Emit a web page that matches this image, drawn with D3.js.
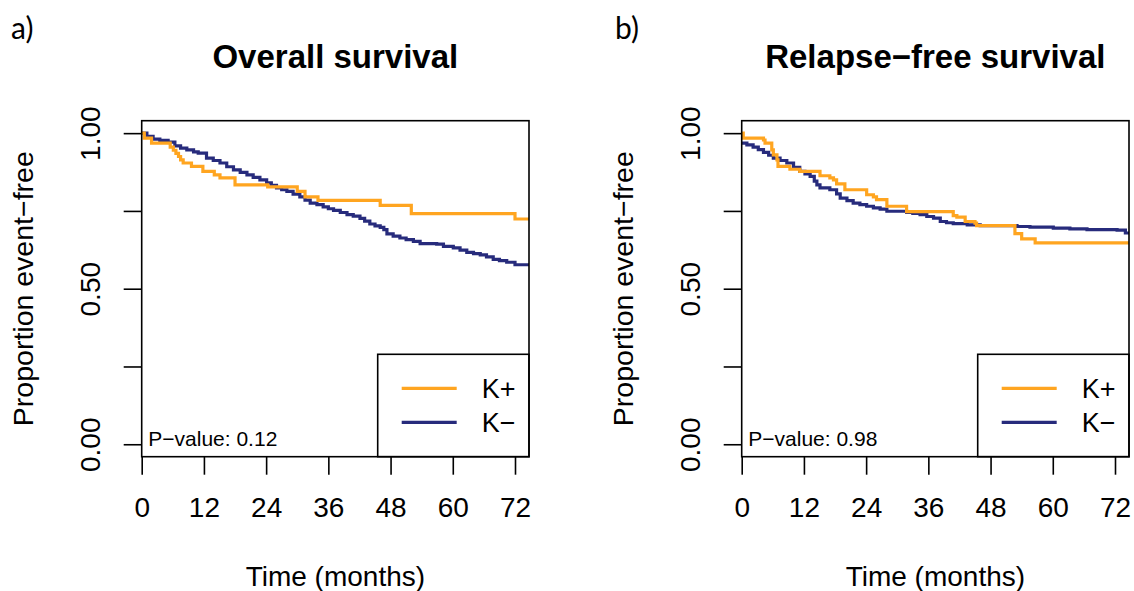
<!DOCTYPE html>
<html>
  <head>
    <meta charset="utf-8" />
    <script src="https://cdn.jsdelivr.net/npm/d3@7"></script>
    <style>
      body { margin: 0; background: #ffffff; }
      text { font-family: "Liberation Sans", Arial, sans-serif; fill: #000000; }
      .frame { stroke: #000000; stroke-width: 1.6; fill: none; }
      .curve { fill: none; stroke-width: 3.2; }
      .axis line { stroke: #000000; stroke-width: 1.6; }
      .axis path { display: none; }
      .tag { font-family: Lato, "Open Sans", sans-serif; }
    </style>
  </head>
  <body>
    <svg width="1134" height="591"></svg>

    <script type="text/javascript">

    // ticks
    var xTicks = [0, 12, 24, 36, 48, 60, 72];
    var yTicks = [0, 0.25, 0.5, 0.75, 1];
    var yTickLabels = ["0.00", "", "0.50", "", "1.00"];
    var xMax = 74.7;

    var groups = ["K+", "K\u2212"];
    var groupColors = ["#ffa520", "#272b7c"];

    // a) overall survival
    var osPosTime = [0, 0.5, 1.9, 5.5, 6.1, 6.6, 7.1, 7.5, 8.0, 9.6, 11.8, 14.0, 15.1, 18.0, 24.3, 30.0, 31.5, 34.0, 46.0, 52.0, 72.0, 74.7];
    var osPosSurv = [1.0, 0.984, 0.968, 0.955, 0.945, 0.935, 0.925, 0.914, 0.904, 0.893, 0.877, 0.866, 0.856, 0.834, 0.827, 0.813, 0.795, 0.784, 0.768, 0.741, 0.724, 0.724];

    var osNegTime = [0, 1.0, 2.2, 3.5, 5.1, 6.4, 7.5, 8.7, 10.0, 10.9, 12.5, 13.8, 15.1, 16.4, 17.7, 19.0, 20.3, 21.5, 22.8, 24.1,
                     25.0, 26.0, 27.0, 28.0, 29.2, 30.5, 31.5, 32.5, 33.8, 35.0, 36.0, 37.0, 38.3, 39.6, 40.8, 42.1, 43.0, 44.0, 45.0, 46.0,
                     46.7, 47.3, 48.5, 49.8, 51.0, 52.4, 53.7, 56.9, 58.2, 60.1, 61.4, 62.7, 64.0, 65.3, 66.5, 67.8, 69.0, 70.4, 72.0, 74.7];
    var osNegSurv = [1.0, 0.99, 0.981, 0.977, 0.971, 0.959, 0.952, 0.946, 0.940, 0.936, 0.920, 0.912, 0.904, 0.892, 0.882, 0.874, 0.866, 0.858, 0.850, 0.840,
                     0.832, 0.824, 0.818, 0.813, 0.804, 0.795, 0.785, 0.775, 0.770, 0.763, 0.757, 0.752, 0.745, 0.738, 0.733, 0.726, 0.717, 0.708, 0.702, 0.697,
                     0.690, 0.676, 0.669, 0.663, 0.658, 0.652, 0.645, 0.643, 0.636, 0.631, 0.624, 0.617, 0.613, 0.609, 0.602, 0.594, 0.590, 0.585, 0.577, 0.577];

    // b) relapse-free survival
    var rfsPosTime = [0, 0.3, 4.2, 4.5, 5.8, 6.1, 6.8, 7.0, 9.3, 11.2, 15.1, 17.0, 17.7, 18.3, 19.9, 24.1, 25.4, 26.0, 28.0, 31.8,
                      40.8, 41.5, 43.1, 45.0, 45.3, 52.7, 54.0, 56.6, 74.7];
    var rfsPosSurv = [1.0, 0.984, 0.978, 0.968, 0.946, 0.930, 0.914, 0.893, 0.884, 0.877, 0.863, 0.856, 0.850, 0.837, 0.818, 0.802, 0.795, 0.786, 0.765, 0.748,
                      0.735, 0.730, 0.716, 0.711, 0.703, 0.677, 0.660, 0.647, 0.647];

    var rfsNegTime = [0, 1.0, 2.2, 3.2, 4.2, 5.2, 6.1, 7.4, 8.7, 10.0, 11.2, 12.2, 13.2, 14.0, 14.5, 15.1, 17.0, 18.3, 19.0, 20.3,
                      21.5, 22.8, 24.1, 25.4, 26.7, 28.0, 31.8, 33.0, 34.4, 35.7, 37.0, 38.3, 39.5, 40.8, 43.5, 46.0, 53.1, 55.6, 60.1, 63.3,
                      66.6, 72.4, 74.0, 74.7];
    var rfsNegSurv = [0.968, 0.962, 0.955, 0.947, 0.938, 0.929, 0.920, 0.912, 0.904, 0.890, 0.877, 0.869, 0.861, 0.846, 0.834, 0.824, 0.818, 0.805, 0.791, 0.783,
                      0.775, 0.770, 0.765, 0.760, 0.756, 0.749, 0.745, 0.742, 0.738, 0.732, 0.727, 0.716, 0.712, 0.709, 0.705, 0.703, 0.700, 0.698, 0.695, 0.692,
                      0.690, 0.688, 0.679, 0.679];

    var panels = [
      { tag: "a)", title: "Overall survival", pvalue: "P\u2212value: 0.12", left: 141.7, tagX: 11,
        series: [[osNegTime, osNegSurv, 1], [osPosTime, osPosSurv, 0]] },
      { tag: "b)", title: "Relapse\u2212free survival", pvalue: "P\u2212value: 0.98", left: 741.7, tagX: 615,
        series: [[rfsNegTime, rfsNegSurv, 1], [rfsPosTime, rfsPosSurv, 0]] }
    ];

    var svg = d3.select("svg");
    var plotTop = 120.7, plotBottom = 456.7, plotWidth = 387.3;

    panels.forEach(function(p, pi) {
      var x = d3.scaleLinear().domain([0, xMax]).range([p.left, p.left + plotWidth]);
      var y = d3.scaleLinear().domain([-0.04, 1.04]).range([plotBottom, plotTop]);
      var g = svg.append("g");

      g.append("clipPath").attr("id", "clip" + pi)
        .append("rect").attr("x", p.left).attr("y", plotTop).attr("width", plotWidth).attr("height", plotBottom - plotTop);

      var line = d3.line()
        .x(function(d) { return x(d[0]); })
        .y(function(d) { return y(d[1]); })
        .curve(d3.curveStepAfter);

      p.series.forEach(function(s) {
        var pts = s[0].map(function(t, i) { return [t, s[1][i]]; });
        g.append("path")
          .attr("class", "curve")
          .attr("clip-path", "url(#clip" + pi + ")")
          .attr("stroke", groupColors[s[2]])
          .attr("d", line(pts));
      });

      // x axis
      var xa = g.append("g").attr("class", "axis")
        .attr("transform", "translate(0," + plotBottom + ")")
        .call(d3.axisBottom(x).tickValues(xTicks).tickSize(18).tickPadding(22));
      xa.selectAll("text").style("font-size", "28px").attr("fill", "#000");

      // y axis
      var ya = g.append("g").attr("class", "axis")
        .attr("transform", "translate(" + p.left + ",0)")
        .call(d3.axisLeft(y).tickValues(yTicks).tickSize(18)
          .tickFormat(function(d, i) { return yTickLabels[i]; }));
      ya.selectAll("text")
        .attr("x", null).attr("dy", null)
        .attr("transform", "translate(-41.7,0) rotate(-90)")
        .attr("text-anchor", "middle")
        .style("font-size", "28px").attr("fill", "#000");

      // frame
      g.append("rect").attr("class", "frame")
        .attr("x", p.left).attr("y", plotTop).attr("width", plotWidth).attr("height", plotBottom - plotTop);

      // legend
      var lx = p.left + 236, ly = 354.3;
      g.append("rect").attr("class", "frame")
        .attr("x", lx).attr("y", ly).attr("width", p.left + plotWidth - lx).attr("height", plotBottom - ly);
      groups.forEach(function(name, i) {
        var yy = ly + 34 + i * 34;
        g.append("line")
          .attr("x1", lx + 24).attr("x2", lx + 79)
          .attr("y1", yy).attr("y2", yy)
          .attr("stroke", groupColors[i]).attr("stroke-width", 3.2);
        g.append("text")
          .attr("x", lx + 104).attr("y", yy).attr("dy", "0.36em")
          .style("font-size", "27px")
          .text(name);
      });

      g.append("text")
        .attr("x", p.left + 6.6).attr("y", 446)
        .style("font-size", "21px")
        .text(p.pvalue);

      // titles
      g.append("text")
        .attr("x", p.left + plotWidth / 2).attr("y", 68)
        .attr("text-anchor", "middle")
        .style("font-size", "33px").style("font-weight", "bold")
        .text(p.title);

      g.append("text")
        .attr("x", p.left + plotWidth / 2).attr("y", 586)
        .attr("text-anchor", "middle")
        .style("font-size", "28px")
        .text("Time (months)");

      g.append("text")
        .attr("transform", "translate(" + (p.left - 109.2) + "," + ((plotTop + plotBottom) / 2) + ") rotate(-90)")
        .attr("text-anchor", "middle")
        .style("font-size", "28.5px")
        .text("Proportion event\u2212free");

      g.append("text")
        .attr("class", "tag")
        .attr("x", p.tagX).attr("y", 39)
        .style("font-size", "30px")
        .text(p.tag);
    });

    </script>
  </body>
</html>
